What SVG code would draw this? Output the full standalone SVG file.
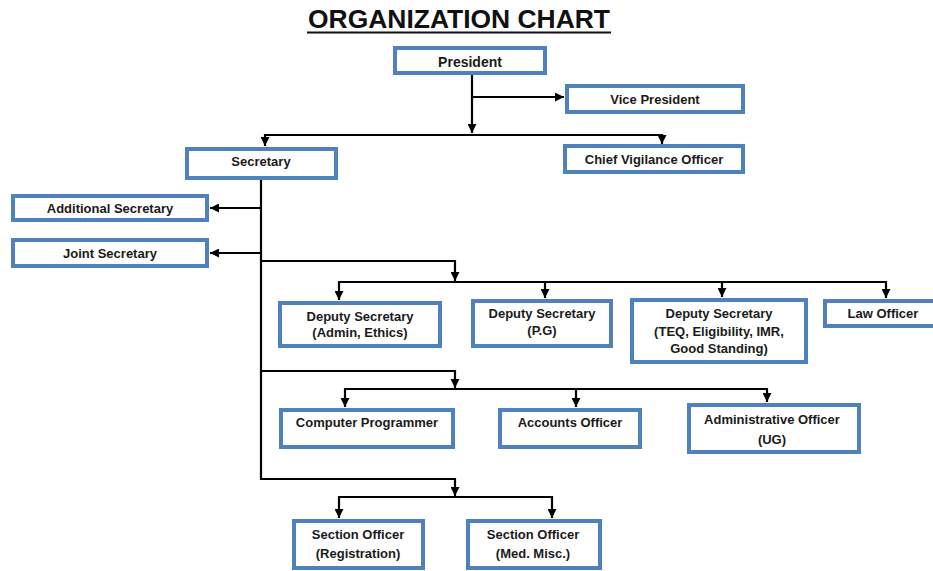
<svg xmlns="http://www.w3.org/2000/svg" width="933" height="571" viewBox="0 0 933 571">
<style>
.box{fill:#fff;stroke:#4f81bd;stroke-width:4}
.t{font-family:"Liberation Sans",Arial,sans-serif;font-weight:bold;font-size:13px;fill:#1a1a1a;text-anchor:middle}
.c{fill:none;stroke:#000;stroke-width:2.2}
.title{font-family:"Liberation Sans",Arial,sans-serif;font-weight:bold;font-size:26px;fill:#111;text-anchor:middle}
</style>
<defs>
<marker id="ah" viewBox="0 0 10 10" refX="10" refY="5" markerWidth="9" markerHeight="9" markerUnits="userSpaceOnUse" orient="auto-start-reverse">
<path d="M0,0 L10,5 L0,10 z" fill="#000"/>
</marker>
</defs>
<rect width="933" height="571" fill="#fff"/>
<g id="title">
<text class="title" x="459" y="28" textLength="302" lengthAdjust="spacingAndGlyphs">ORGANIZATION CHART</text>
<line x1="307" y1="32.5" x2="611" y2="32.5" stroke="#111" stroke-width="2.2"/>
</g>
<g id="connectors">
<path class="c" d="M472 75 V133" marker-end="url(#ah)"/>
<path class="c" d="M472 97 H564" marker-end="url(#ah)"/>
<path class="c" d="M265 146 V135 H662 V144" marker-start="url(#ah)" marker-end="url(#ah)"/>
<path class="c" d="M261 180 V480" stroke-width="2.8"/>
<path class="c" d="M261 208 H210" marker-end="url(#ah)"/>
<path class="c" d="M261 253 H210" marker-end="url(#ah)"/>
<path class="c" d="M261 261 H455 V281" marker-end="url(#ah)"/>
<path class="c" d="M339 300 V282 H886 V298" marker-start="url(#ah)" marker-end="url(#ah)"/>
<path class="c" d="M545 282 V298" marker-end="url(#ah)"/>
<path class="c" d="M722 282 V297" marker-end="url(#ah)"/>
<path class="c" d="M261 371 H455 V388" marker-end="url(#ah)"/>
<path class="c" d="M345 407 V389 H767 V402" marker-start="url(#ah)" marker-end="url(#ah)"/>
<path class="c" d="M576 389 V407" marker-end="url(#ah)"/>
<path class="c" d="M261 479 H455 V496" marker-end="url(#ah)"/>
<path class="c" d="M339 518 V497 H552 V518" marker-start="url(#ah)" marker-end="url(#ah)"/>
</g>
<g id="president"><rect class="box" x="395" y="48" width="150" height="25"/><text class="t" x="470" y="67" style="font-size:14px">President</text></g>
<g id="vice-president"><rect class="box" x="567" y="86" width="176" height="26"/><text class="t" x="655" y="104">Vice President</text></g>
<g id="secretary"><rect class="box" x="187" y="149" width="149" height="29"/><text class="t" x="261" y="166">Secretary</text></g>
<g id="chief-vigilance-officer"><rect class="box" x="565" y="146" width="178" height="26"/><text class="t" x="654" y="164">Chief Vigilance Officer</text></g>
<g id="additional-secretary"><rect class="box" x="13" y="196" width="194" height="24"/><text class="t" x="110" y="213">Additional Secretary</text></g>
<g id="joint-secretary"><rect class="box" x="13" y="240" width="194" height="26"/><text class="t" x="110" y="258">Joint Secretary</text></g>
<g id="ds-admin"><rect class="box" x="280" y="303" width="160" height="43"/><text class="t" x="360" y="321">Deputy Secretary</text><text class="t" x="360" y="337">(Admin, Ethics)</text></g>
<g id="ds-pg"><rect class="box" x="473" y="301" width="138" height="45"/><text class="t" x="542" y="318">Deputy Secretary</text><text class="t" x="542" y="335">(P.G)</text></g>
<g id="ds-teq"><rect class="box" x="632" y="300" width="174" height="62"/><text class="t" x="719" y="318">Deputy Secretary</text><text class="t" x="719" y="336">(TEQ, Eligibility, IMR,</text><text class="t" x="719" y="353">Good Standing)</text></g>
<g id="law-officer"><rect class="box" x="825" y="301" width="112" height="25"/><text class="t" x="883" y="318">Law Officer</text></g>
<g id="computer-programmer"><rect class="box" x="281" y="410" width="172" height="37"/><text class="t" x="367" y="427">Computer Programmer</text></g>
<g id="accounts-officer"><rect class="box" x="500" y="410" width="140" height="37"/><text class="t" x="570" y="427">Accounts Officer</text></g>
<g id="administrative-officer"><rect class="box" x="689" y="405" width="170" height="47"/><text class="t" x="772" y="424">Administrative Officer</text><text class="t" x="772" y="444">(UG)</text></g>
<g id="so-registration"><rect class="box" x="294" y="521" width="129" height="47"/><text class="t" x="358" y="539">Section Officer</text><text class="t" x="358" y="558">(Registration)</text></g>
<g id="so-med"><rect class="box" x="468" y="521" width="132" height="47"/><text class="t" x="533" y="539">Section Officer</text><text class="t" x="533" y="558">(Med. Misc.)</text></g>
</svg>
